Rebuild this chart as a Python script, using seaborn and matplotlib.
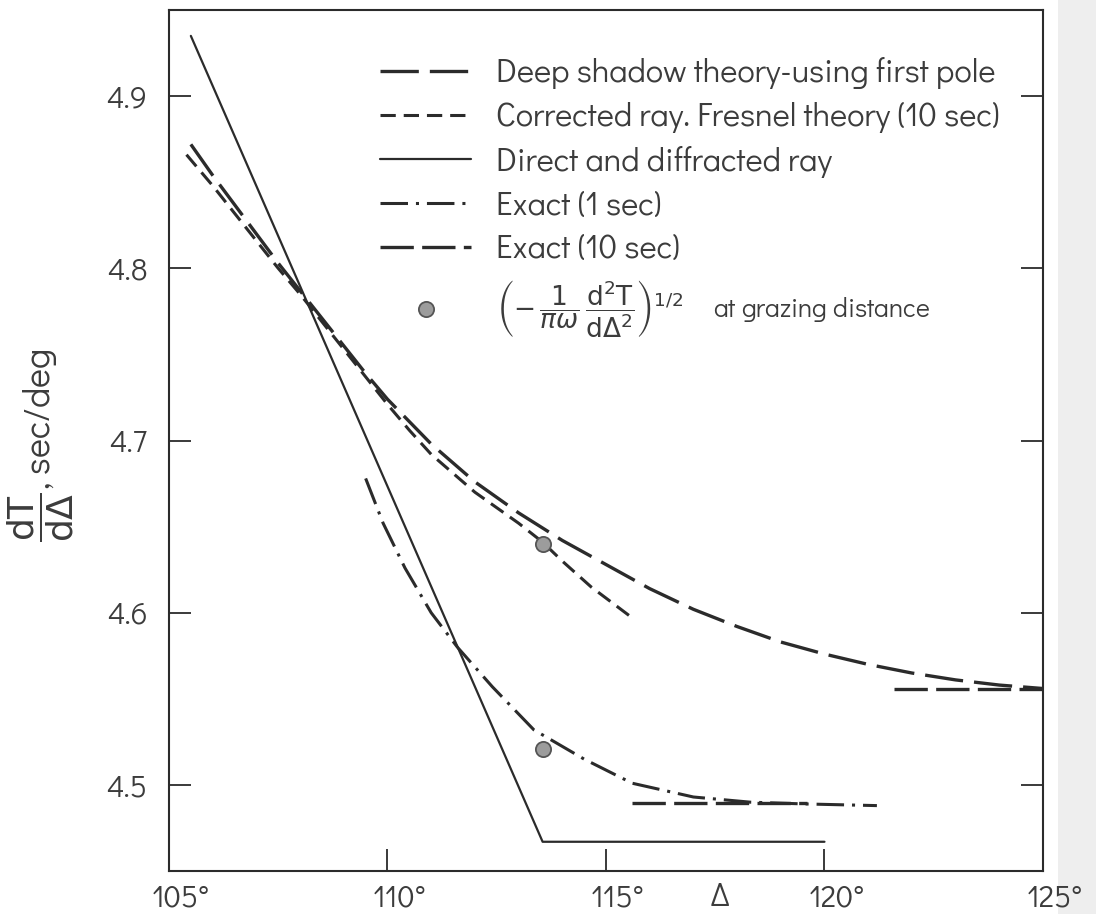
import matplotlib
matplotlib.use("Agg")
import matplotlib.pyplot as plt
import matplotlib.transforms as mtransforms
from matplotlib import font_manager
from matplotlib.patches import Rectangle
import seaborn as sns

# ---------------- data ----------------
deep_x = [105.5, 106.0, 106.5, 107.0, 107.5, 108.0, 108.5, 109.0, 109.5, 110.0,
          111.0, 112.0, 113.0, 114.0, 115.0, 116.0, 117.0, 118.0, 119.0, 120.0,
          121.0, 122.0, 123.0, 124.0, 125.0]
deep_y = [4.872, 4.854, 4.837, 4.820, 4.803, 4.787, 4.771, 4.755, 4.739, 4.724,
          4.698, 4.676, 4.658, 4.642, 4.628, 4.614, 4.602, 4.592, 4.583, 4.576,
          4.570, 4.565, 4.561, 4.558, 4.556]

fresnel_x = [105.4, 106.0, 106.5, 107.0, 107.5, 108.0, 108.5, 109.0, 109.5, 110.0,
             110.5, 111.0, 112.0, 113.0, 113.55, 114.0, 114.66, 115.55]
fresnel_y = [4.866, 4.848, 4.832, 4.816, 4.800, 4.785, 4.769, 4.753, 4.737, 4.721,
             4.706, 4.692, 4.670, 4.652, 4.641, 4.630, 4.615, 4.598]

direct_x = [105.5, 113.55, 120.0]
direct_y = [4.935, 4.467, 4.467]

exact1_x = [109.5, 109.9, 110.4, 111.0, 111.6, 112.4, 113.35, 114.5, 115.6, 117.0,
            118.3, 119.5, 121.2]
exact1_y = [4.678, 4.652, 4.626, 4.600, 4.580, 4.557, 4.532, 4.515, 4.501, 4.493,
            4.490, 4.489, 4.488]

exact10_low_x = [115.6, 119.6]
exact10_low_y = [4.4895, 4.4895]
exact10_high_x = [121.6, 125.0]
exact10_high_y = [4.556, 4.556]

graze_x = [113.55, 113.55]
graze_y = [4.640, 4.521]

x_ticks = [105, 110, 115, 120, 125]
x_tick_labels = ["105°", "110°", "115°", "120°", "125°"]
y_ticks = [4.5, 4.6, 4.7, 4.8, 4.9]
y_tick_labels = ["4.5", "4.6", "4.7", "4.8", "4.9"]

labels = [
    "Deep shadow theory-using first pole",
    "Corrected ray. Fresnel theory (10 sec)",
    "Direct and diffracted ray",
    "Exact (1 sec)",
    "Exact (10 sec)",
    r"$\left(-\,\dfrac{1}{\pi\omega}\,\dfrac{\mathrm{d}^2\mathrm{T}}{\mathrm{d}\Delta^2}\right)^{1/2}$     at grazing distance",
]

# ---------------- style ----------------
sns.set_theme(style="white")
avail = {f.name for f in font_manager.fontManager.ttflist}
MAIN = next((c for c in ['Didact Gothic', 'Questrial', 'DejaVu Sans'] if c in avail), 'DejaVu Sans')
plt.rcParams['font.family'] = [MAIN, 'DejaVu Sans']
plt.rcParams['mathtext.fontset'] = 'dejavusans'

INK = '#2b2b2b'
TXT = '#3c3c3c'
FS = 22
LFS = 23.5

fig = plt.figure(figsize=(10.96, 9.14), dpi=100)
fig.add_artist(Rectangle((1058 / 1096, 0), 1 - 1058 / 1096, 1, transform=fig.transFigure,
                         facecolor='#eeeeee', edgecolor='none', zorder=-5))
ax = fig.add_axes([0.1542, 0.0470, 0.7974, 0.9420])
ax.set_facecolor('white')

sns.lineplot(x=deep_x, y=deep_y, ax=ax, color=INK, lw=2.4, sort=False,
             linestyle=(0, (11.5, 3.3)), label=labels[0])
sns.lineplot(x=fresnel_x, y=fresnel_y, ax=ax, color=INK, lw=2.2, sort=False,
             linestyle=(0, (5, 2.6)), label=labels[1])
sns.lineplot(x=direct_x, y=direct_y, ax=ax, color=INK, lw=1.6, sort=False,
             linestyle='-', label=labels[2])
sns.lineplot(x=exact1_x, y=exact1_y, ax=ax, color=INK, lw=2.2, sort=False,
             linestyle=(0, (9, 2.6, 1, 2.6)), label=labels[3])
sns.lineplot(x=exact10_high_x, y=exact10_high_y, ax=ax, color=INK, lw=2.4, sort=False,
             linestyle=(0, (10, 2.5)), label=labels[4])
sns.lineplot(x=exact10_low_x, y=exact10_low_y, ax=ax, color=INK, lw=2.4, sort=False,
             linestyle=(0, (10, 2.5)))
sns.scatterplot(x=graze_x, y=graze_y, ax=ax, s=120, color='#9c9c9c',
                edgecolor='#555555', linewidth=1.3, zorder=5, label=labels[5])

ax.set_xlim(105, 125)
ax.set_ylim(4.45, 4.95)

ax.set_xticks(x_ticks)
ax.set_xticklabels(x_tick_labels)
ax.set_yticks(y_ticks)
ax.set_yticklabels(y_tick_labels)

ax.tick_params(axis='both', direction='in', length=15.8, width=1.3, color=INK,
               labelsize=FS, labelcolor=TXT)
ax.tick_params(axis='y', right=True, left=True, pad=15.5)
ax.tick_params(axis='x', bottom=True, top=False, pad=9)

offset = mtransforms.ScaledTranslation(12 / 100, 0, fig.dpi_scale_trans)
for lab in ax.get_xticklabels():
    lab.set_transform(lab.get_transform() + offset)

for sp in ax.spines.values():
    sp.set_visible(True)
    sp.set_color(INK)
    sp.set_linewidth(1.5)

ax.set_xlabel("Δ", fontsize=FS + 1, color=TXT)
ax.xaxis.set_label_coords(0.630, -0.0125)
ax.set_ylabel(r"$\dfrac{\mathrm{dT}}{\mathrm{d}\Delta}$, sec/deg", fontsize=26, color=TXT)
ax.yaxis.set_label_coords(-0.106, 0.494)

handles, labs = ax.get_legend_handles_labels()
hmap = dict(zip(labs, handles))
leg = ax.legend([hmap[l] for l in labels], labels, loc='upper left',
                bbox_to_anchor=(0.2414, 0.945), frameon=False, fontsize=LFS,
                handlelength=2.79, handletextpad=0.77, labelspacing=0.39,
                borderpad=0, borderaxespad=0)
for t in leg.get_texts():
    t.set_color(TXT)
leg.get_texts()[-1].set_fontsize(19)

fig.savefig("out.png", dpi=100)
